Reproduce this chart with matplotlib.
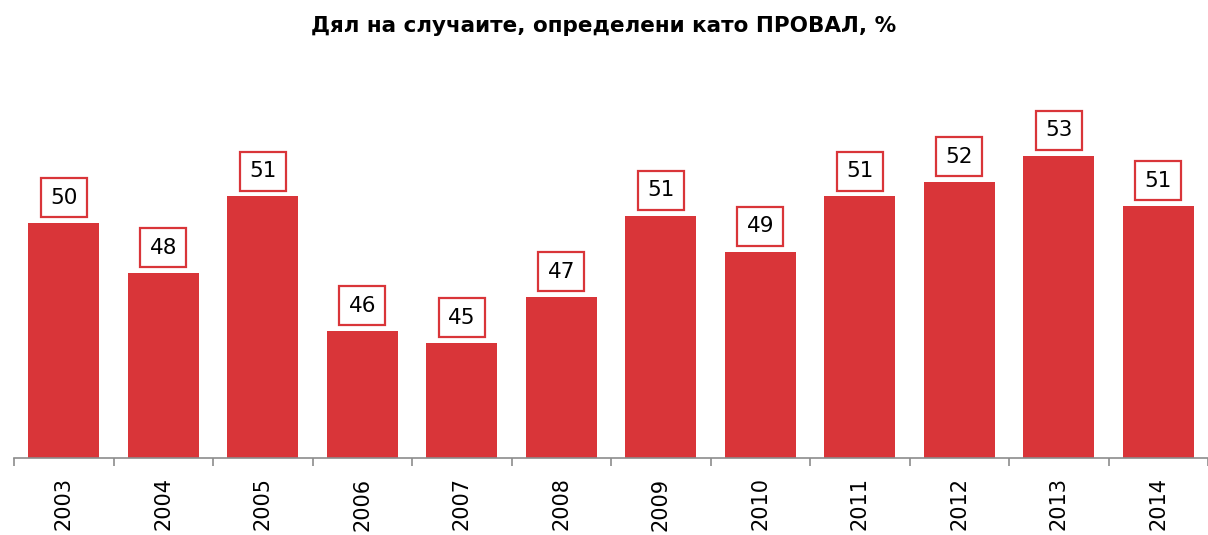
import matplotlib.pyplot as plt
import numpy as np

years = ["2003", "2004", "2005", "2006", "2007", "2008",
         "2009", "2010", "2011", "2012", "2013", "2014"]
share_fail = [50.3, 48.2, 51.4, 45.8, 45.3, 47.2,
              50.6, 49.1, 51.4, 52.0, 53.1, 51.0]

bar_color = "#D93539"

fig = plt.figure(figsize=(12.08, 5.35), dpi=100)
ax = fig.add_axes([14 / 1208, 77 / 535, 1194 / 1208, 348 / 535])

x = np.arange(len(years))
bars = ax.bar(x, share_fail, width=0.71, color=bar_color, zorder=2)

ax.set_xlim(-0.5, len(years) - 0.5)
ax.set_ylim(40.5, 55)

# data labels in boxes
for xi, v in zip(x, share_fail):
    ax.annotate(f"{v:.0f}", xy=(xi, v), xytext=(0, 11), textcoords="offset points",
                ha="center", va="bottom", fontsize=15.5, color="black",
                bbox=dict(boxstyle="square,pad=0.44", fc="white",
                          ec="#D93539", lw=1.6))

for side in ["top", "right", "left"]:
    ax.spines[side].set_visible(False)
ax.spines["bottom"].set_color("#8C8C8C")
ax.spines["bottom"].set_linewidth(1.2)

ax.set_yticks([])
ax.set_xticks(x)
ax.set_xticklabels(years, rotation=90, fontsize=15)
ax.tick_params(axis="x", which="major", length=0, pad=14)
ax.set_xticks(np.arange(-0.5, len(years)), minor=True)
ax.tick_params(axis="x", which="minor", length=6, width=1.2, color="#8C8C8C")

fig.suptitle("Дял на случаите, определени като ПРОВАЛ, %", x=0.5, y=0.97,
             fontsize=15.5, fontweight="bold")

fig.savefig("out.png", dpi=100)
